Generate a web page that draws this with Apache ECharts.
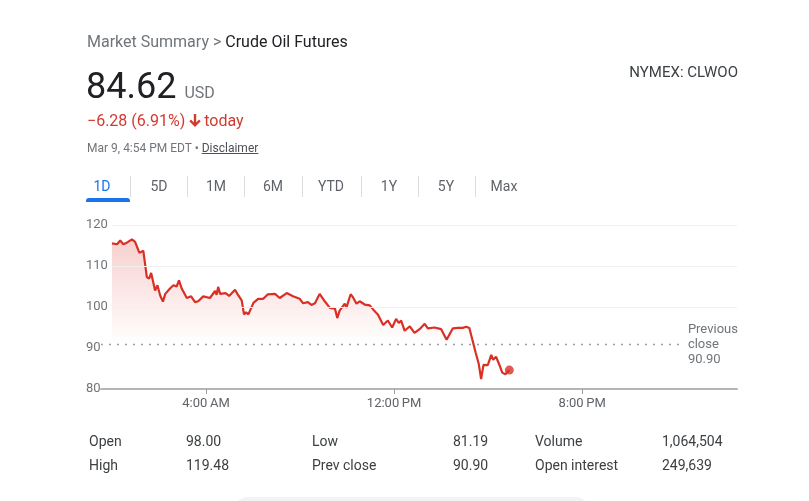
<!DOCTYPE html>
<html>
<head>
<meta charset="utf-8">
<title>Crude Oil Futures</title>
<script src="https://cdn.jsdelivr.net/npm/echarts@6/dist/echarts.min.js"></script>
<style>
  html, body { margin: 0; padding: 0; background: #fff; }
  body { width: 809px; height: 501px; position: relative; overflow: hidden; font-family: Roboto, Arial, sans-serif; }
  #chart { position: absolute; left: 0; top: 0; width: 809px; height: 501px; }
  .t { position: absolute; white-space: nowrap; }
  .crumb { left: 87px; top: 32px; font-size: 16px; line-height: 20px; color: #70757a; }
  .crumb b { font-weight: normal; color: #202124; }
  .price { left: 86px; top: 68px; font-size: 36px; line-height: 36px; color: #202124; }
  .price span { font-size: 16px; color: #70757a; margin-left: 8px; }
  .chg { left: 87px; top: 111px; font-size: 16px; line-height: 20px; color: #d03a2f; }
  .chg svg { vertical-align: -1px; margin: 0 3px 0 4px; }
  .date { left: 87px; top: 140px; font-size: 12px; line-height: 16px; color: #70757a; }
  .date u { color: #4d5156; }
  .sym { right: 71px; top: 62px; font-size: 15px; line-height: 20px; color: #3c4043; }
  .tab { top: 176px; font-size: 14px; line-height: 20px; color: #5f6368; transform: translateX(-50%); }
  .tab.on { color: #1a73e8; }
  .sep { position: absolute; top: 176px; width: 1px; height: 21px; background: #dadce0; }
  .bar { position: absolute; left: 86px; top: 198px; width: 44px; height: 4px; background: #1a73e8; border-radius: 3px 3px 0 0; }
  .st { font-size: 14px; line-height: 20px; color: #3c4043; }
  .pill { position: absolute; left: 235px; top: 497px; width: 353px; height: 24px; background: #f1f3f4; border-radius: 12px; }
</style>
</head>
<body>
<div id="chart"></div>

<div class="t crumb">Market Summary &gt; <b>Crude Oil Futures</b></div>
<div class="t price">84.62<span>USD</span></div>
<div class="t chg">−6.28 (6.91%)<svg width="12" height="13" viewBox="0 0 12 13"><path d="M6 13 L0.3 7.3 L2 5.6 L4.8 8.4 L4.8 0 L7.2 0 L7.2 8.4 L10 5.6 L11.7 7.3 Z" fill="#d03a2f"/></svg>today</div>
<div class="t date">Mar 9, 4:54 PM EDT • <u>Disclaimer</u></div>
<div class="t sym">NYMEX: CLWOO</div>

<div id="tabs"></div>
<div class="bar"></div>
<div id="stats"></div>
<div class="pill"></div>

<script>
// 价格走势（美东时间 H:MM，从图上读出）
var times = ['0:00','0:13','0:21','0:29','0:38','0:51','0:59','1:10','1:20','1:29',
  '1:35','1:40','1:50','1:56','2:03','2:10','2:16','2:28','2:37','2:45',
  '2:51','2:58','3:11','3:22','3:32','3:40','3:53','4:10','4:23','4:27',
  '4:31','4:36','4:50','4:59','5:14','5:20','5:31','5:37','5:42','5:48',
  '6:01','6:13','6:26','6:38','6:56','7:08','7:26','7:42','7:59','8:08',
  '8:20','8:29','8:38','8:50','9:03','9:16','9:29','9:35','9:41','9:54',
  '9:58','10:09','10:15','10:24','10:32','10:45','10:58','11:10','11:19','11:32',
  '11:44','11:55','12:05','12:12','12:18','12:27','12:40','12:52','13:05','13:18',
  '13:26','13:43','14:00','14:14','14:30','14:34','14:43','14:55','15:04','15:12',
  '15:28','15:36','15:42','15:48','15:59','16:08','16:13','16:20','16:29','16:36',
  '16:44','16:50','16:54'];
var prices = [115.5,115.3,116.2,115.3,115.7,116.5,115.9,113.2,113.7,107.3,
  106.9,108.3,104.0,105.3,102.8,101.3,103.2,104.5,105.3,105.0,
  106.5,104.5,102.2,102.6,101.2,101.4,102.6,102.2,103.9,103.0,
  104.9,103.2,103.4,102.7,104.2,103.2,101.6,98.2,98.7,98.2,
  101.0,102.0,102.0,103.1,103.2,102.2,103.4,102.6,102.0,100.9,
  101.2,100.5,100.9,103.2,101.4,99.8,99.6,97.3,99.1,100.8,
  99.8,103.1,102.4,100.8,101.4,100.6,100.4,99.0,98.1,95.6,
  96.7,95.0,97.1,96.1,96.7,94.2,95.3,93.7,94.6,95.9,
  94.8,95.0,94.6,92.0,94.8,94.5,94.9,94.9,95.2,94.9,
  88.9,86.1,82.4,85.9,85.8,88.3,87.1,87.9,85.8,84.0,
  83.6,84.2,84.62];
var prevClose = 90.90;

// 坐标轴刻度
var tickTimes = ['4:00','12:00','20:00'];
var tickLabels = ['4:00\u2009AM','12:00\u2009PM','8:00\u2009PM'];
var yTicks = [80, 90, 100, 110, 120];
var gridValues = [100, 110, 120];

// 页面上的时间段标签
var tabNames = ['1D','5D','1M','6M','YTD','1Y','5Y','Max'];
var tabCenters = [102, 159, 216, 273, 331, 389, 446, 504];
var tabSeps = [130, 187, 244, 302, 361, 418, 475];

// 下方统计
var statNames = [['Open','High'], ['Low','Prev close'], ['Volume','Open interest']];
var statValues = [['98.00','119.48'], ['81.19','90.90'], ['1,064,504','249,639']];
var statNameX = [89, 312, 535];
var statValueX = [186, 453, 662];

function toMin(s) {
    var p = s.split(':');
    return parseInt(p[0], 10) * 60 + parseInt(p[1], 10);
}

function initHtml() {
    var html = '';
    for (var i = 0; i < tabNames.length; i++) {
        html += '<div class="t tab' + (i == 0 ? ' on' : '') + '" style="left:' + tabCenters[i] + 'px">' + tabNames[i] + '</div>';
    }
    for (var j = 0; j < tabSeps.length; j++) {
        html += '<div class="sep" style="left:' + tabSeps[j] + 'px"></div>';
    }
    document.getElementById('tabs').innerHTML = html;

    var rowsTop = [431, 455];
    var s = '';
    for (var c = 0; c < statNames.length; c++) {
        for (var r = 0; r < 2; r++) {
            s += '<div class="t st" style="left:' + statNameX[c] + 'px;top:' + rowsTop[r] + 'px">' + statNames[c][r] + '</div>';
            s += '<div class="t st" style="left:' + statValueX[c] + 'px;top:' + rowsTop[r] + 'px">' + statValues[c][r] + '</div>';
        }
    }
    document.getElementById('stats').innerHTML = s;
}

function initChart() {
    var lineData = [];
    for (var i = 0; i < times.length; i++) {
        lineData.push([toMin(times[i]), prices[i]]);
    }
    var last = lineData[lineData.length - 1];
    var tickVals = tickTimes.map(toMin);
    var xMin = -28, xMax = 1595;

    // 浅色横向网格线，从开盘处画起
    var gridLines = gridValues.map(function (v) {
        return [{ coord: [0, v] }, { coord: [xMax, v] }];
    });

    var chart = echarts.init(document.getElementById('chart'), null, { renderer: 'canvas' });
    chart.setOption({
        animation: false,
        grid: { left: 101, right: 72, top: 225, bottom: 112 },
        xAxis: {
            type: 'value',
            min: xMin,
            max: xMax,
            axisLine: { show: true, lineStyle: { color: '#b5b5b5', width: 2 } },
            axisTick: { show: true, customValues: tickVals, length: 5, lineStyle: { color: '#9e9e9e', width: 1 } },
            axisLabel: {
                customValues: tickVals,
                margin: 8,
                color: '#5f6368',
                fontSize: 13,
                fontFamily: 'Roboto',
                formatter: function (v) { return tickLabels[tickVals.indexOf(v)]; }
            },
            splitLine: { show: false }
        },
        yAxis: {
            type: 'value',
            min: yTicks[0],
            max: yTicks[yTicks.length - 1],
            interval: 10,
            axisLine: { show: false },
            axisTick: { show: false },
            axisLabel: { align: 'left', margin: 15, color: '#70757a', fontSize: 13, fontFamily: 'Roboto' },
            splitLine: { show: false }
        },
        series: [{
            type: 'scatter',
            data: [],
            silent: true,
            markLine: {
                silent: true,
                symbol: 'none',
                label: { show: false },
                lineStyle: { color: '#f0f0f0', type: 'solid', width: 1 },
                data: gridLines
            }
        }, {
            type: 'line',
            data: lineData,
            showSymbol: false,
            lineStyle: { color: '#d93025', width: 2.2 },
            areaStyle: {
                origin: 'start',
                color: new echarts.graphic.LinearGradient(0, 0, 0, 1, [
                    { offset: 0, color: 'rgba(217,48,37,0.32)' },
                    { offset: 0.7, color: 'rgba(217,48,37,0)' },
                    { offset: 1, color: 'rgba(217,48,37,0)' }
                ])
            },
            markLine: {
                silent: true,
                symbol: 'none',
                lineStyle: { color: '#9aa0a6', type: [2, 6], width: 1.3 },
                label: {
                    show: true,
                    position: 'end',
                    distance: 3,
                    color: '#70757a',
                    fontSize: 13,
                    lineHeight: 15,
                    fontFamily: 'Roboto',
                    formatter: 'Previous\nclose\n' + prevClose.toFixed(2)
                },
                data: [[{ coord: [xMin, prevClose] }, { coord: [1462, prevClose] }]]
            }
        }, {
            type: 'scatter',
            data: [last],
            symbolSize: 9,
            itemStyle: { color: '#d93025' },
            silent: true
        }]
    });
}

initHtml();
initChart();
</script>
</body>
</html>
